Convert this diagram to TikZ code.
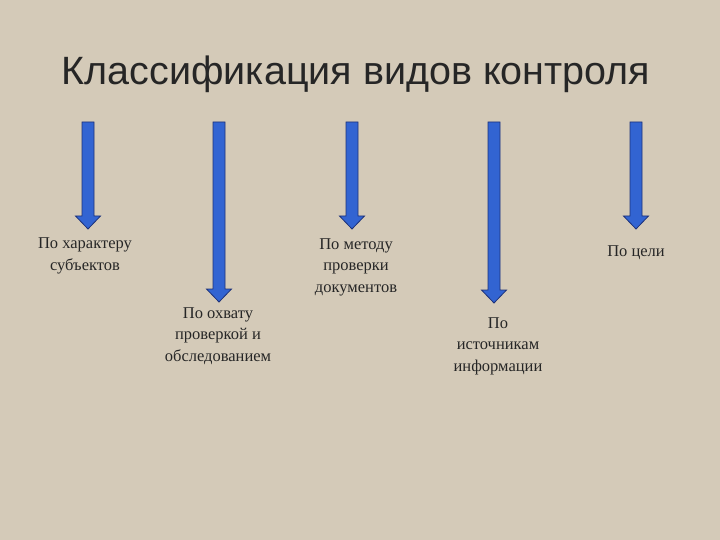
\documentclass[tikz,border=0pt]{standalone}
\usepackage{fontspec}
\setmainfont{Liberation Serif}
\newfontfamily\titlefont{Liberation Sans}
\definecolor{bgc}{RGB}{212,202,184}
\definecolor{arrfill}{RGB}{50,100,210}
\definecolor{arrline}{RGB}{30,50,120}
\begin{document}
\begin{tikzpicture}[x=1pt,y=-1pt,
  lbl/.style={align=center,font=\fontsize{16.5}{21.5}\selectfont,text=black!85},
  blk/.style={fill=arrfill,draw=arrline,line width=0.8pt}]
\fill[bgc] (0,0) rectangle (720,540);
\useasboundingbox (0,0) rectangle (720,540);
\node[font=\titlefont\fontsize{39.5}{44}\selectfont,text=black!85] (title) at (356,74) {Классификация видов контроля};
\newcommand\blockarrow[3]{% x, top, tip
  \path[blk] (#1-6,#2) -- (#1+6,#2) -- (#1+6,#3-13) -- (#1+12.5,#3-13) -- (#1,#3) -- (#1-12.5,#3-13) -- (#1-6,#3-13) -- cycle;}
\blockarrow{88}{122}{229}
\blockarrow{219}{122}{302}
\blockarrow{352}{122}{229}
\blockarrow{494}{122}{303}
\blockarrow{636}{122}{229}
\node[lbl] (a) at (85,256) {По характеру\\субъектов};
\node[lbl] (b) at (218,336) {По охвату\\проверкой и\\обследованием};
\node[lbl] (c) at (356,267) {По методу\\проверки\\документов};
\node[lbl] (d) at (498,346) {По\\источникам\\информации};
\node[lbl] (e) at (636,253) {По цели};
\end{tikzpicture}
\end{document}
